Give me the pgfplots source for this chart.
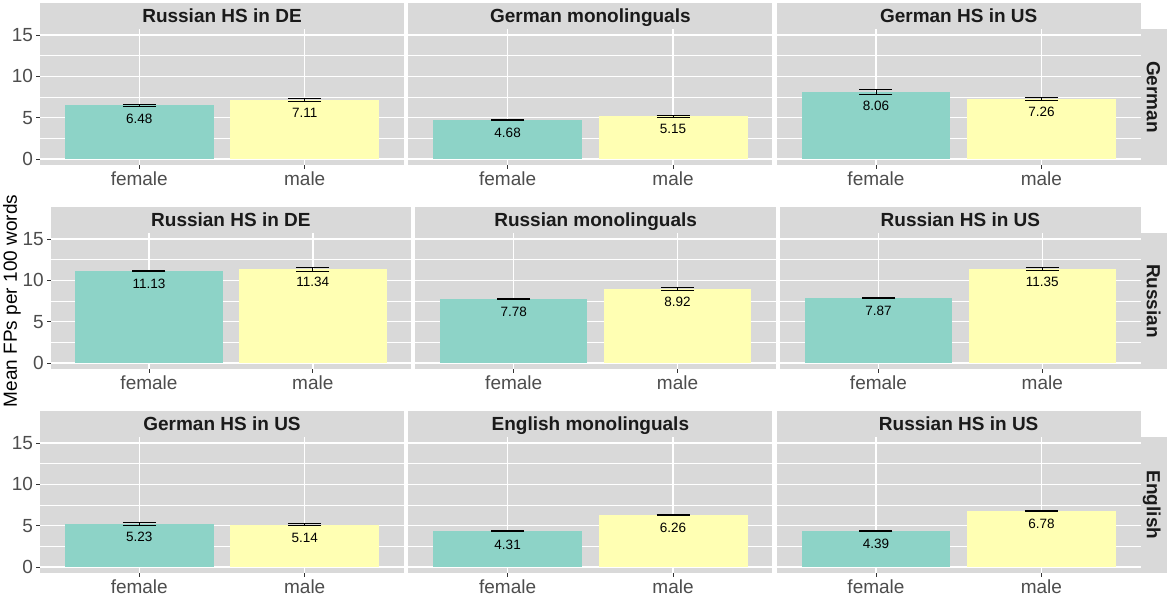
\documentclass[border=0pt]{standalone}
\usepackage{pgfplots}
\pgfplotsset{compat=1.18}
\usepackage{fontspec}
\setmainfont{Liberation Sans}
\definecolor{fem}{HTML}{8DD3C7}
\definecolor{mal}{HTML}{FFFFB3}
\definecolor{panelgray}{HTML}{D9D9D9}
\definecolor{stripgray}{HTML}{D9D9D9}
\definecolor{ticklab}{HTML}{4D4D4D}
\definecolor{tickcol}{HTML}{333333}
\definecolor{striptext}{HTML}{1A1A1A}
\newcommand{\fs}{\fontsize{19}{22}\selectfont}
\newcommand{\vs}{\fontsize{13.5}{15}\selectfont}
\pgfplotsset{
  panel/.style={
    scale only axis, width=364pt, height=136.4pt,
    xmin=0.4, xmax=2.6, ymin=-0.75, ymax=15.75,
    xtick={1,2}, xticklabels={female,male},
    ytick={0,5,10,15}, minor ytick={2.5,7.5,12.5},
    xmajorgrids, ymajorgrids, yminorgrids,
    minor tick length=0pt,
    major grid style={white, line width=1.4pt},
    minor grid style={white, line width=0.7pt},
    axis line style={draw=none},
    axis background/.style={fill=panelgray},
    tick align=outside, major tick length=3.5pt,
    tick style={tickcol, line width=0.9pt},
    tick pos=left,
    tick label style={font=\fs, text=ticklab},
    /pgf/number format/assume math mode=true,
    every axis title/.style={at={(0.5,1)}, anchor=south, fill=stripgray,
      minimum width=364pt, minimum height=25.5pt, inner sep=0pt,
      text height=13.6pt, text depth=0pt, font=\fs\bfseries, text=striptext},
  },
  narrow/.style={width=360.4pt, every axis title/.append style={minimum width=360.4pt}},
  noy/.style={ymajorticks=false, yticklabels={}},
  bar/.style={ybar, bar width=0.9, bar shift=0pt, draw=none,
    nodes near coords,
    nodes near coords style={font=\vs, text=black, anchor=center, inner sep=0pt, yshift=-13pt,
      /pgf/number format/.cd, fixed, fixed zerofill, precision=2, assume math mode=true}},
  errs/.style={draw=none, mark=none,
    error bars/.cd, y dir=both, y explicit,
    error mark=|,
    error bar style={draw=black, line width=0.9pt},
    error mark options={draw=black, line width=0.9pt, mark size=16.5pt}},
}
\begin{document}
\begin{tikzpicture}
\fill[white] (0pt,0pt) rectangle (1170pt,596pt);
\useasboundingbox (0pt,0pt) rectangle (1170pt,596pt);

% ---------- Row 1: German ----------
\begin{axis}[panel, name=p11, at={(40pt,430.8pt)}, anchor=south west, title={Russian HS in DE}]
\addplot[bar, fill=fem] coordinates {(1,6.48)};
\addplot[bar, fill=mal] coordinates {(2,7.11)};
\addplot[errs] coordinates {(1,6.48) +- (0,0.07) (2,7.11) +- (0,0.17)};
\end{axis}
\begin{axis}[panel, noy, name=p12, at={(408.35pt,430.8pt)}, anchor=south west, title={German monolinguals}]
\addplot[bar, fill=fem] coordinates {(1,4.68)};
\addplot[bar, fill=mal] coordinates {(2,5.15)};
\addplot[errs] coordinates {(1,4.68) +- (0,0.07) (2,5.15) +- (0,0.12)};
\end{axis}
\begin{axis}[panel, noy, name=p13, at={(776.7pt,430.8pt)}, anchor=south west, title={German HS in US}]
\addplot[bar, fill=fem] coordinates {(1,8.06)};
\addplot[bar, fill=mal] coordinates {(2,7.26)};
\addplot[errs] coordinates {(1,8.06) +- (0,0.3) (2,7.26) +- (0,0.15)};
\end{axis}

% ---------- Row 2: Russian ----------
\begin{axis}[panel, narrow, name=p21, at={(50.7pt,226.8pt)}, anchor=south west, title={Russian HS in DE}]
\addplot[bar, fill=fem] coordinates {(1,11.13)};
\addplot[bar, fill=mal] coordinates {(2,11.34)};
\addplot[errs] coordinates {(1,11.13) +- (0,0.08) (2,11.34) +- (0,0.22)};
\end{axis}
\begin{axis}[panel, narrow, noy, name=p22, at={(415.45pt,226.8pt)}, anchor=south west, title={Russian monolinguals}]
\addplot[bar, fill=fem] coordinates {(1,7.78)};
\addplot[bar, fill=mal] coordinates {(2,8.92)};
\addplot[errs] coordinates {(1,7.78) +- (0,0.07) (2,8.92) +- (0,0.2)};
\end{axis}
\begin{axis}[panel, narrow, noy, name=p23, at={(780.2pt,226.8pt)}, anchor=south west, title={Russian HS in US}]
\addplot[bar, fill=fem] coordinates {(1,7.87)};
\addplot[bar, fill=mal] coordinates {(2,11.35)};
\addplot[errs] coordinates {(1,7.87) +- (0,0.07) (2,11.35) +- (0,0.15)};
\end{axis}

% ---------- Row 3: English ----------
\begin{axis}[panel, name=p31, at={(40pt,22.8pt)}, anchor=south west, title={German HS in US}]
\addplot[bar, fill=fem] coordinates {(1,5.23)};
\addplot[bar, fill=mal] coordinates {(2,5.14)};
\addplot[errs] coordinates {(1,5.23) +- (0,0.15) (2,5.14) +- (0,0.14)};
\end{axis}
\begin{axis}[panel, noy, name=p32, at={(408.35pt,22.8pt)}, anchor=south west, title={English monolinguals}]
\addplot[bar, fill=fem] coordinates {(1,4.31)};
\addplot[bar, fill=mal] coordinates {(2,6.26)};
\addplot[errs] coordinates {(1,4.31) +- (0,0.07) (2,6.26) +- (0,0.08)};
\end{axis}
\begin{axis}[panel, noy, name=p33, at={(776.7pt,22.8pt)}, anchor=south west, title={Russian HS in US}]
\addplot[bar, fill=fem] coordinates {(1,4.39)};
\addplot[bar, fill=mal] coordinates {(2,6.78)};
\addplot[errs] coordinates {(1,4.39) +- (0,0.07) (2,6.78) +- (0,0.1)};
\end{axis}

% ---------- right strips ----------
\foreach \p/\t in {p13/German, p23/Russian, p33/English}{
  \fill[stripgray] (\p.north east) rectangle ([xshift=26pt]\p.south east);
  \node[rotate=-90, font=\fs\bfseries, text=striptext, inner sep=0pt, text height=13.6pt, text depth=0pt]
    at ([xshift=13pt]\p.east) {\t};
}
% ---------- y label ----------
\node[rotate=90, font=\fs, text=black, inner sep=0pt] at (12pt,295pt) {Mean FPs per 100 words};
\end{tikzpicture}
\end{document}
